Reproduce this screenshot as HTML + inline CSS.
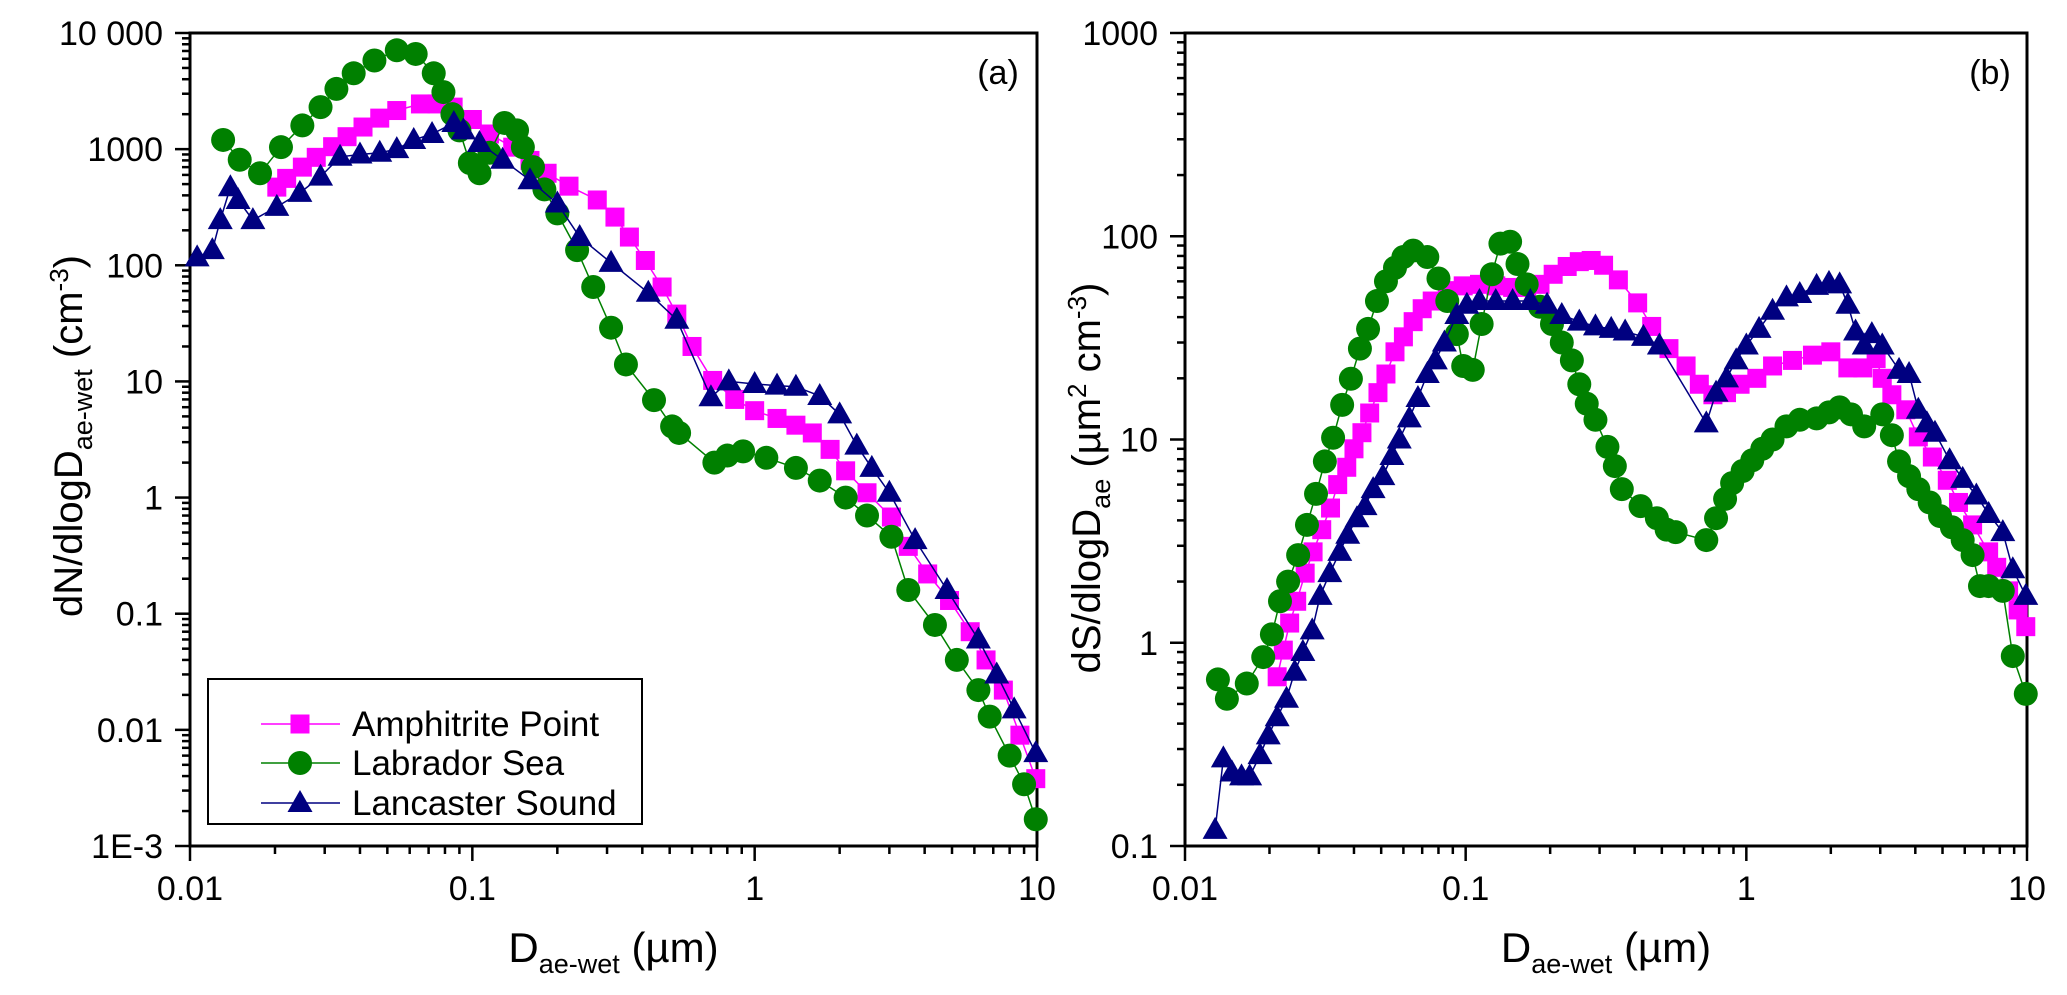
<!DOCTYPE html>
<html><head><meta charset="utf-8">
<style>
html,body{margin:0;padding:0;background:#fff;}
svg{display:block;font-family:"Liberation Sans",Arial,sans-serif;}
</style></head>
<body>
<svg id="chart" width="2067" height="995" viewBox="0 0 2067 995" xmlns="http://www.w3.org/2000/svg">
<g id="gA"></g>
<g id="gB"></g>
</svg>
<script>
// ---------- Panel (a) data: dN/dlogD ----------
const aAmphX = [0.0203,0.022,0.025,0.028,0.032,0.036,0.041,0.047,0.054,0.0655,0.075,0.0855,0.1,0.115,0.139,0.16,0.184,0.22,0.277,0.32,0.36,0.41,0.47,0.53,0.6,0.71,0.85,1.0,1.2,1.4,1.6,1.85,2.1,2.5,3.05,3.5,4.1,4.9,5.8,6.6,7.6,8.7,9.9];
const aAmphY = [471,560,700,850,1050,1280,1550,1850,2150,2450,2450,2300,1800,1350,1040,800,620,480,365,260,175,110,65,38,20,10.2,7.0,5.6,4.8,4.2,3.6,2.6,1.7,1.1,0.68,0.38,0.22,0.13,0.07,0.04,0.022,0.009,0.0038];
const aLabX = [0.0131,0.015,0.0177,0.021,0.025,0.029,0.033,0.038,0.045,0.054,0.063,0.073,0.079,0.085,0.09,0.098,0.106,0.115,0.13,0.144,0.151,0.164,0.18,0.2,0.235,0.268,0.31,0.35,0.44,0.51,0.54,0.72,0.8,0.91,1.1,1.4,1.7,2.1,2.5,3.05,3.5,4.35,5.2,6.2,6.8,8.0,9.0,9.9];
const aLabY = [1200,810,620,1040,1600,2300,3300,4500,5800,7100,6600,4500,3100,2000,1450,760,620,930,1680,1450,1040,700,450,280,135,65,29,14,6.9,4.1,3.6,2.0,2.3,2.5,2.2,1.8,1.4,1.0,0.7,0.46,0.16,0.08,0.04,0.022,0.013,0.006,0.0034,0.0017];
const aLanX = [0.0106,0.012,0.0128,0.0139,0.0148,0.0167,0.0203,0.0245,0.029,0.034,0.04,0.047,0.054,0.062,0.072,0.086,0.093,0.106,0.128,0.16,0.2,0.24,0.31,0.42,0.53,0.7,0.81,1.0,1.2,1.4,1.7,2.0,2.3,2.6,3.0,3.7,4.8,6.2,7.2,8.3,9.9];
const aLanY = [117,135,245,470,365,245,318,420,580,860,900,930,1000,1200,1350,1680,1450,1130,810,540,340,175,105,58,34,7.3,10,9.5,9.2,9.0,7.5,5.2,2.8,1.8,1.1,0.43,0.16,0.06,0.03,0.015,0.0063];
// ---------- Panel (b) data: dS/dlogD ----------
const bAmphX = [0.0213,0.0224,0.0236,0.025,0.0268,0.0286,0.0307,0.033,0.035,0.0377,0.040,0.0427,0.0455,0.0487,0.052,0.056,0.060,0.065,0.070,0.076,0.086,0.098,0.112,0.128,0.147,0.165,0.184,0.205,0.23,0.254,0.28,0.31,0.35,0.41,0.46,0.53,0.61,0.68,0.76,0.85,0.95,1.09,1.24,1.46,1.72,2.0,2.3,2.6,2.9,3.05,3.3,3.7,4.1,4.6,5.2,5.7,6.4,7.3,7.8,8.6,9.3,9.9];
const bAmphY = [0.68,0.92,1.25,1.6,2.2,2.8,3.6,4.6,6.0,7.3,9.0,10.8,13.5,17,21,27,32,38,44,48,54,57,58,57,56,56,58,65,71,75,76,72,61,47,36,28,23,18.7,16.6,17,18.7,20,23,24.5,26,27,22.5,22.5,25,20,16.6,14,10.3,8.2,6.3,4.9,3.8,2.8,2.35,1.8,1.45,1.2];
const bLabX = [0.0131,0.0141,0.0166,0.019,0.0204,0.0218,0.0233,0.0253,0.0272,0.0293,0.0315,0.0337,0.0363,0.039,0.042,0.0449,0.0483,0.052,0.056,0.060,0.065,0.073,0.080,0.086,0.093,0.098,0.106,0.114,0.124,0.133,0.144,0.153,0.165,0.184,0.203,0.22,0.239,0.254,0.27,0.29,0.32,0.34,0.36,0.42,0.48,0.52,0.56,0.72,0.78,0.84,0.89,0.97,1.05,1.14,1.24,1.39,1.55,1.78,1.97,2.15,2.36,2.63,3.05,3.3,3.5,3.8,4.1,4.5,4.9,5.4,5.9,6.4,6.8,7.3,8.2,8.9,9.9];
const bLabY = [0.66,0.53,0.63,0.85,1.1,1.6,2.0,2.7,3.8,5.4,7.8,10.2,14.8,19.9,28,35,48,60,70,79,85,79,62,48,33,23,22,37,65,92,94,73,58,45,37,30,24.5,18.7,15,12.5,9.2,7.4,5.7,4.7,4.1,3.6,3.5,3.2,4.1,5.1,6.1,7.0,7.9,9.0,10.0,11.6,12.5,12.7,13.6,14.4,13.3,11.6,13.3,10.5,7.8,6.6,5.7,4.9,4.2,3.7,3.2,2.7,1.9,1.9,1.8,0.86,0.56];
const bLanX = [0.0128,0.0137,0.0147,0.0159,0.017,0.0185,0.0198,0.0213,0.023,0.0246,0.0263,0.0284,0.0303,0.0328,0.0356,0.038,0.041,0.0438,0.0468,0.0507,0.0546,0.058,0.063,0.0676,0.073,0.078,0.084,0.093,0.101,0.112,0.128,0.147,0.17,0.195,0.22,0.254,0.29,0.33,0.37,0.43,0.49,0.72,0.78,0.85,0.92,1.0,1.11,1.24,1.39,1.55,1.78,1.97,2.15,2.3,2.45,2.63,2.8,3.05,3.5,3.8,4.1,4.4,4.7,5.3,5.9,6.6,7.3,8.2,8.9,9.9];
const bLanY = [0.12,0.27,0.23,0.22,0.22,0.28,0.35,0.43,0.53,0.72,0.90,1.15,1.7,2.2,2.8,3.4,4.1,4.7,5.7,6.6,8.3,10,12.7,16,21,24.5,30,41,46,48,48,48,48,46,41,38,36,35,34,32,29,12,17,20,24.5,29,35,43,50,52,57,59,58,46,34,29,33,29,22,21,14,12,10.8,7.9,6.4,5.3,4.3,3.5,2.3,1.7];

const NS = 'http://www.w3.org/2000/svg';
function mk(parent, tag, attrs){ const e=document.createElementNS(NS,tag); for(const k in attrs) e.setAttribute(k,attrs[k]); parent.appendChild(e); return e; }

const COL = {amph:'#ff00ff', lab:'#008000', lan:'#000080'};

function makeAxes(p){
  p.xs = v => p.x0 + (p.x1-p.x0)*(Math.log10(v)-p.xmin)/(p.xmax-p.xmin);
  p.ys = v => p.y1 - (p.y1-p.y0)*(Math.log10(v)-p.ymin)/(p.ymax-p.ymin);
  return p;
}

function drawMarker(g, shape, cx, cy, color){
  let m;
  if(shape==='sq'){ m=mk(g,'rect',{x:cx-9.5,y:cy-9.5,width:19,height:19,fill:color}); }
  else if(shape==='ci'){ m=mk(g,'circle',{cx:cx,cy:cy,r:12,fill:color}); }
  else { m=mk(g,'polygon',{points:`${cx},${cy-13} ${cx-12.5},${cy+9} ${cx+12.5},${cy+9}`,fill:color}); }
  return m;
}

function drawSeries(p, g, xs, ys, color, shape, name){
  const sg = mk(g,'g',{});
  
  
  let d='';
  xs.forEach((x,i)=>{ d += (i?'L':'M') + p.xs(x).toFixed(1)+','+p.ys(ys[i]).toFixed(1); });
  const ln = mk(sg,'path',{d:d,fill:'none',stroke:color,'stroke-width':1.5});
  
  
  xs.forEach((x,i)=>{
    const m = drawMarker(sg, shape, p.xs(x), p.ys(ys[i]), color);
    
    
  });
}

function drawFrame(p, g, yTicks, yLabels){
  const ax = mk(g,'g',{});
  
  
  mk(ax,'rect',{x:p.x0,y:p.y0,width:p.x1-p.x0,height:p.y1-p.y0,fill:'none',stroke:'#000','stroke-width':3});
  for(let e=p.xmin;e<=p.xmax;e++){
    for(let k=1;k<=9;k++){
      if(e===p.xmax && k>1) break;
      const x=p.xs(k*Math.pow(10,e));
      mk(ax,'line',{x1:x,y1:p.y1,x2:x,y2:p.y1+(k===1?15:8),stroke:'#000','stroke-width':2.5});
    }
  }
  ['0.01','0.1','1','10'].forEach((t,i)=>{
    const tx = mk(ax,'text',{x:p.xs(Math.pow(10,p.xmin+i)),y:900,'font-size':34,'text-anchor':'middle',fill:'#000'});
    tx.textContent=t;
    
    
  });
  for(let e=p.ymin;e<=p.ymax;e++){
    for(let k=1;k<=9;k++){
      if(e===p.ymax && k>1) break;
      const y=p.ys(k*Math.pow(10,e));
      mk(ax,'line',{x1:p.x0-(k===1?15:8),y1:y,x2:p.x0,y2:y,stroke:'#000','stroke-width':2.5});
    }
  }
  yTicks.forEach((v,i)=>{
    const tx = mk(ax,'text',{x:p.x0-27,y:p.ys(v)+12,'font-size':34,'text-anchor':'end',fill:'#000'});
    tx.textContent=yLabels[i];
    
    
  });
  const xt = mk(ax,'text',{x:(p.x0+p.x1)/2,y:962,'font-size':42,'text-anchor':'middle',fill:'#000'});
  
  
  xt.innerHTML = 'D<tspan font-size="27" dy="11">ae-wet</tspan><tspan dy="-11"> (µm)</tspan>';
}

// ---- Panel A ----
const pA = makeAxes({x0:190,x1:1037,y0:33,y1:846,xmin:-2,xmax:1,ymin:-3,ymax:4});
const gA = document.getElementById('gA');
drawFrame(pA, gA, [10000,1000,100,10,1,0.1,0.01,0.001], ['10 000','1000','100','10','1','0.1','0.01','1E-3']);
drawSeries(pA, gA, aAmphX, aAmphY, COL.amph, 'sq', 'series-amphitrite-point-a');
drawSeries(pA, gA, aLabX, aLabY, COL.lab, 'ci', 'series-labrador-sea-a');
drawSeries(pA, gA, aLanX, aLanY, COL.lan, 'tr', 'series-lancaster-sound-a');
{
  const t = mk(gA,'text',{x:998,y:84,'font-size':34,'text-anchor':'middle'}); t.textContent='(a)';
   
  const yt = mk(gA,'text',{x:0,y:0,'font-size':40,'text-anchor':'middle',transform:'translate(82,436) rotate(-90)'});
   
  yt.innerHTML='dN/dlogD<tspan font-size="27" dy="10">ae-wet</tspan><tspan dy="-10"> (cm</tspan><tspan font-size="26" dy="-14">-3</tspan><tspan dy="14">)</tspan>';
  const lg = mk(gA,'g',{});  
  mk(lg,'rect',{x:208,y:679,width:434,height:145,fill:'#fff',stroke:'#000','stroke-width':2});
  const items=[['Amphitrite Point',COL.amph,'sq',724],['Labrador Sea',COL.lab,'ci',763],['Lancaster Sound',COL.lan,'tr',803]];
  items.forEach(it=>{
    const e = mk(lg,'g',{});
     
    mk(e,'line',{x1:261,y1:it[3],x2:340,y2:it[3],stroke:it[1],'stroke-width':1.5});
    drawMarker(e,it[2],300,it[3],it[1]);
    const t=mk(e,'text',{x:352,y:it[3]+12,'font-size':35}); t.textContent=it[0];
  });
}

// ---- Panel B ----
const pB = makeAxes({x0:1185,x1:2027,y0:33,y1:846,xmin:-2,xmax:1,ymin:-1,ymax:3});
const gB = document.getElementById('gB');
drawFrame(pB, gB, [1000,100,10,1,0.1], ['1000','100','10','1','0.1']);
drawSeries(pB, gB, bAmphX, bAmphY, COL.amph, 'sq', 'series-amphitrite-point-b');
drawSeries(pB, gB, bLabX, bLabY, COL.lab, 'ci', 'series-labrador-sea-b');
drawSeries(pB, gB, bLanX, bLanY, COL.lan, 'tr', 'series-lancaster-sound-b');
{
  const t = mk(gB,'text',{x:1990,y:84,'font-size':34,'text-anchor':'middle'}); t.textContent='(b)';
   
  const yt = mk(gB,'text',{x:0,y:0,'font-size':40,'text-anchor':'middle',transform:'translate(1100,478) rotate(-90)'});
   
  yt.innerHTML='dS/dlogD<tspan font-size="27" dy="10">ae</tspan><tspan dy="-10"> (µm</tspan><tspan font-size="26" dy="-14">2</tspan><tspan dy="14"> cm</tspan><tspan font-size="26" dy="-14">-3</tspan><tspan dy="14">)</tspan>';
}
</script>
</body></html>
